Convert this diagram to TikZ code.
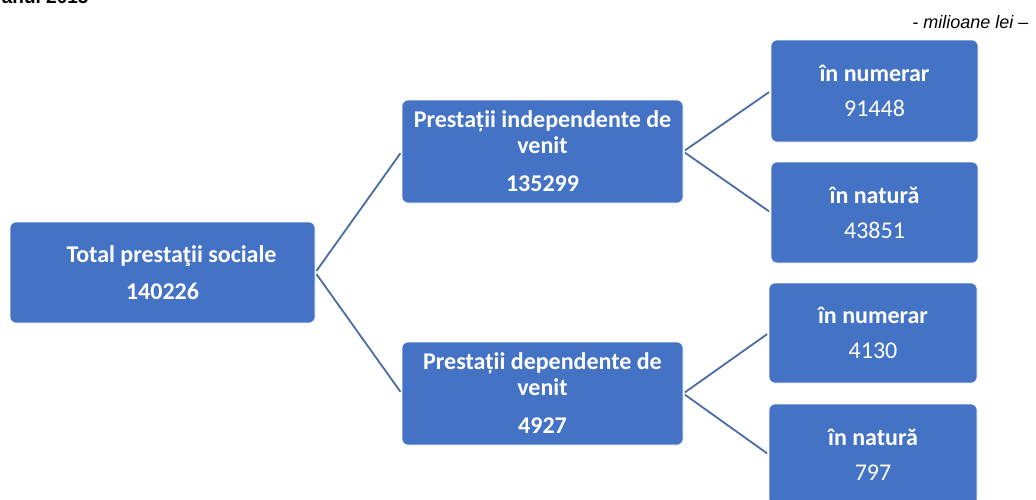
\documentclass[tikz,border=0pt]{standalone}
\usepackage{fontspec}
\setmainfont{Carlito}
\newfontfamily\arialfont{Liberation Sans}
\usetikzlibrary{positioning}

\definecolor{boxblue}{HTML}{4472C4}
\definecolor{linkblue}{HTML}{4A6CA5}

\begin{document}
\begin{tikzpicture}[x=1pt, y=-1pt,
    box/.style={draw=white, line width=0.6pt, fill=boxblue, rounded corners=6pt,
                text=white, inner sep=0pt, align=center,
                font=\fontsize{24}{26}\selectfont},
    link/.style={draw=linkblue, line width=1.8pt}]
    \useasboundingbox (0,0) rectangle (1036,499);
    % heading and unit
    \node[anchor=base east, font=\arialfont\bfseries\fontsize{19}{22}\selectfont] (head) at (92,3.5) {anul 2015};
    \node[anchor=base east, font=\arialfont\itshape\fontsize{18}{20}\selectfont] (unit) at (1032,28) {- milioane lei –};
    % boxes
    \node[box, minimum width=305, minimum height=101] (total) at (162.5,272.5)
        {\hspace*{18pt}\textbf{Total prestaţii sociale}\\[11pt]\textbf{140226}};
    \node[box, minimum width=281, minimum height=103] (indep) at (542.5,151.5)
        {\textbf{Prestații independente de}\\\textbf{venit}\\[12pt]\textbf{135299}};
    \node[box, minimum width=281, minimum height=103] (dep) at (542.5,393.5)
        {\textbf{Prestații dependente de}\\\textbf{venit}\\[12pt]\textbf{4927}};
    \node[box, minimum width=207, minimum height=102] (num_1) at (874.5,91)
        {\textbf{în numerar}\\[9pt]91448};
    \node[box, minimum width=207, minimum height=101] (nat_1) at (874.5,212.5)
        {\textbf{în natură}\\[9pt]43851};
    \node[box, minimum width=208, minimum height=100] (num_2) at (873,333)
        {\textbf{în numerar}\\[9pt]4130};
    \node[box, minimum width=208, minimum height=101] (nat_2) at (873,454.5)
        {\textbf{în natură}\\[9pt]797};
    % connectors
    \path[link, shorten <=2pt, shorten >=2pt]
        (total.east) edge (indep.west)
                     edge (dep.west)
        (indep.east) edge (num_1.west)
                     edge (nat_1.west)
        (dep.east)   edge (num_2.west)
                     edge (nat_2.west);
\end{tikzpicture}
\end{document}
